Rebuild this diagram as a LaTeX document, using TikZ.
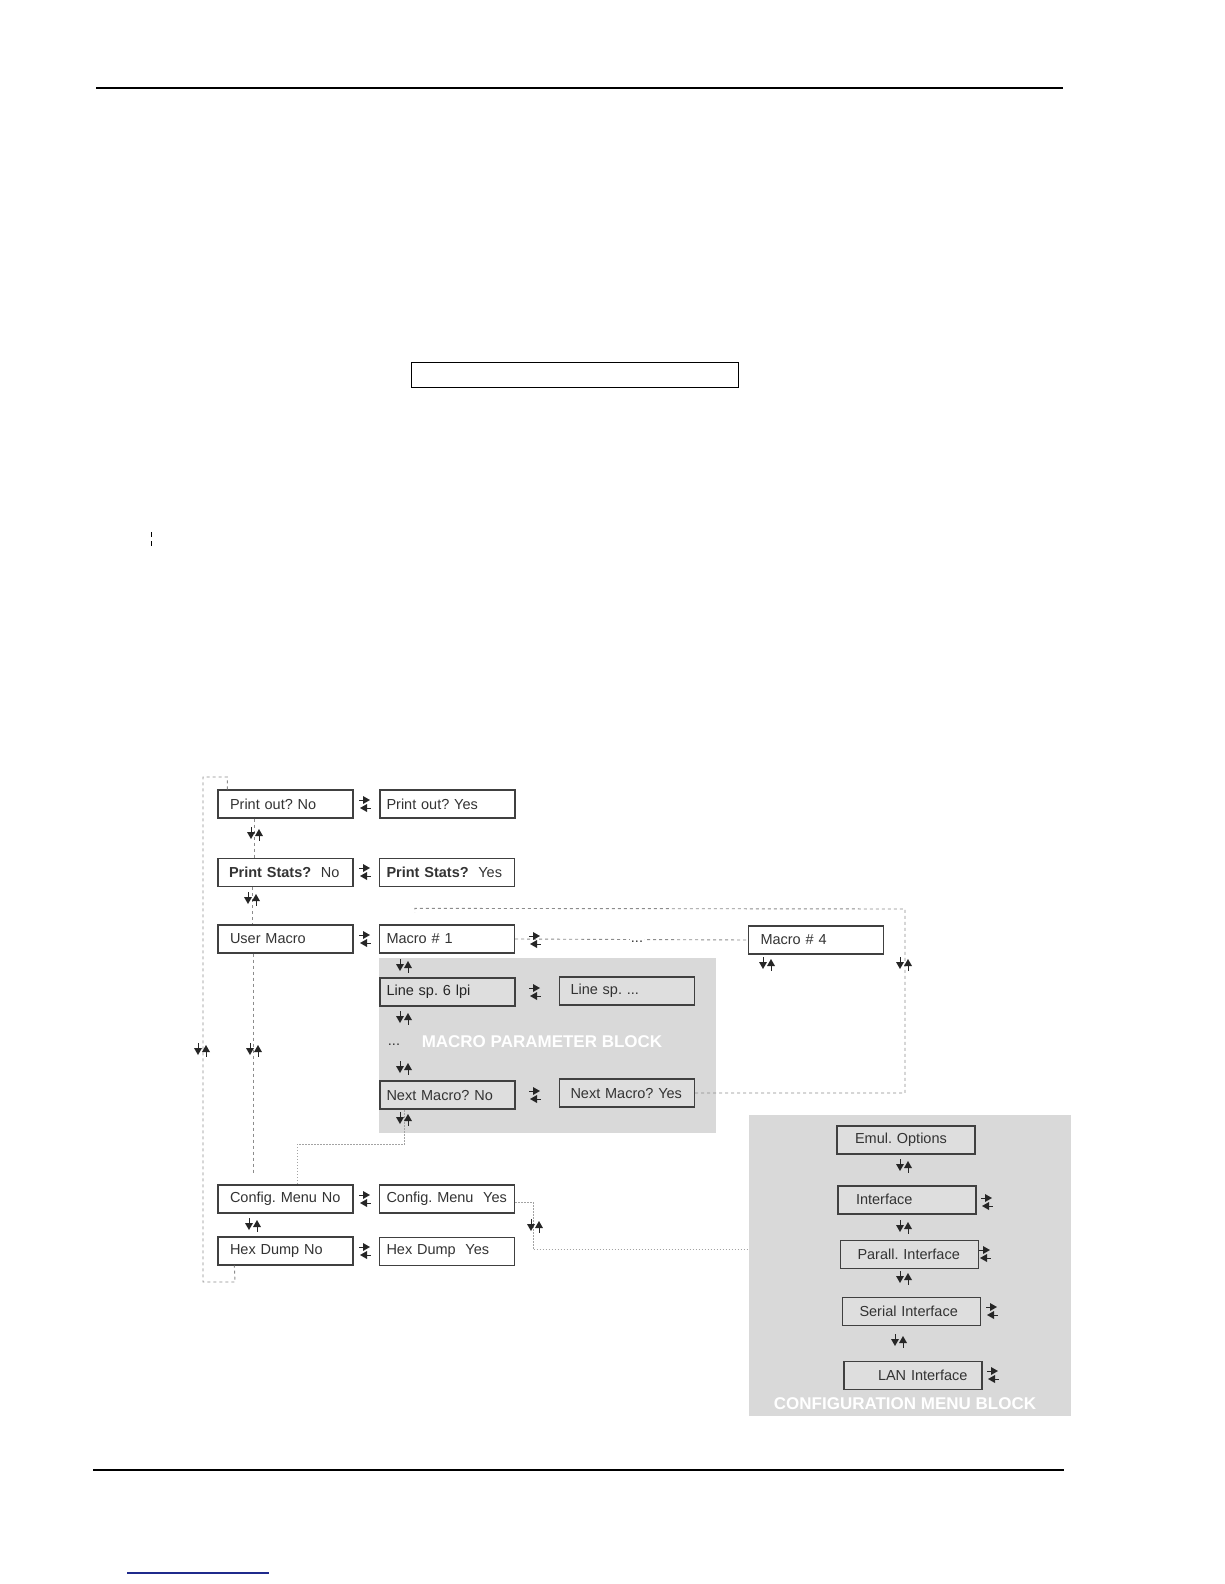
\documentclass[tikz,border=0pt]{standalone}
\usepackage{fontspec}
\setmainfont{Liberation Sans}
\usepackage{xcolor}
\usetikzlibrary{positioning}
\definecolor{BoxEdge}{HTML}{404040}
\definecolor{TextGray}{HTML}{333333}
\definecolor{BlockGray}{HTML}{D9D9D9}
\definecolor{InnerGray}{HTML}{DEDEDE}
\definecolor{LoopGray}{HTML}{8C8C8C}
\definecolor{LinkBlue}{HTML}{1F2A8C}
\frenchspacing
\tikzset{
  vpair/.pic={
    \draw[black!85,line width=1pt] (-4,-7)--(-4,-2) (4,2)--(4,7);
    \fill[black!85] (-8,-2)--(0,-2)--(-4,5)--cycle;
    \fill[black!85] (0,2)--(8,2)--(4,-5)--cycle;},
  hpair/.pic={
    \draw[black!85,line width=1pt] (-6,-4)--(-2,-4) (2,4)--(6,4);
    \fill[black!85] (-2,-8)--(-2,0)--(5,-4)--cycle;
    \fill[black!85] (2,0)--(2,8)--(-5,4)--cycle;}
}

\begin{document}
\begin{tikzpicture}[x=1pt,y=-1pt,
    every node/.style={font=\fontsize{14.5}{17}\selectfont,text=TextGray},
    menubox/.style={draw=BoxEdge,line width=1.3pt,fill=white,minimum height=28pt,
      text width=121pt,inner xsep=7pt,align=left},
    heavy/.style={line width=2pt},
    cfgbox/.style={menubox,fill=InnerGray,text width=118pt,inner xsep=10pt},
    blocklabel/.style={font=\fontsize{17}{20}\selectfont\bfseries,text=white},
    dashln/.style={LoopGray,line width=0.9pt,dash pattern=on 3pt off 3pt},
    dotln/.style={LoopGray!80,line width=0.8pt,dash pattern=on 1.5pt off 1.5pt}]
  \useasboundingbox (0,0) rectangle (1224,1584);
  % page rules
  \draw[line width=1.2pt] (96,88) -- (1063,88);
  \draw[line width=1.2pt] (93,1470) -- (1064,1470);
  \draw[line width=1pt] (411,362) rectangle (738,387);
  \draw[line width=0.8pt] (151,532) -- (151,537) (151,541) -- (151,546);
  \draw[LinkBlue,line width=1.2pt] (127,1573) -- (269,1573);
  % gray blocks
  \node[fill=BlockGray,minimum width=337pt,minimum height=175pt,inner sep=0pt]
    (mblk) at (547.5,1045.5) {};
  \node[fill=BlockGray,minimum width=322pt,minimum height=301pt,inner sep=0pt]
    (cfgblk) at (910,1265.5) {};
  \node[blocklabel] (mlbl) at (542,1042) {MACRO PARAMETER BLOCK};
  \node[blocklabel] (clbl) at (905,1404) {CONFIGURATION MENU BLOCK};
  % main column
  \node[menubox] (pon) at (285.5,804) {\hspace*{5pt}Print out? No};
  \node[menubox] (psn) at (285.5,872.5) {\hspace*{4pt}\textbf{Print Stats?}\ \ No};
  \node[menubox] (um) at (285.5,939) {\hspace*{5pt}User Macro};
  \node[menubox] (cmn) at (285.5,1199) {\hspace*{5pt}Config. Menu No};
  \node[menubox] (hdn) at (285.5,1251) {\hspace*{5pt}Hex Dump No};
  % second column
  \node[menubox,heavy] (poy) at (447,804) {Print out? Yes};
  \node[menubox] (psy) at (447,872.5) {\textbf{Print Stats?}\ \ Yes};
  \node[menubox] (m1) at (447,939) {Macro \# 1};
  \node[menubox,heavy,fill=InnerGray] (ls6) at (447,992) {\textcolor{black!85}{Line sp. 6 lpi}};
  \node (dots) at (394,1045) {...};
  \node[menubox,heavy,fill=InnerGray] (nmn) at (447,1095) {Next Macro? No};
  \node[menubox] (cmy) at (447,1199) {Config. Menu\ \ Yes};
  \node[menubox] (hdy) at (447,1251.5) {Hex Dump\ \ Yes};
  % third column
  \node[menubox,fill=InnerGray] (lsx) at (627,991) {\hspace*{4pt}Line sp. ...};
  \node[menubox,fill=InnerGray] (nmy) at (627,1093) {\hspace*{4pt}Next Macro? Yes};
  \node[menubox] (m4) at (816,940) {\hspace*{5pt}Macro \# 4};
  % configuration menu
  \node[cfgbox,heavy] (emul) at (906,1139.5) {\hspace*{8pt}Emul. Options};
  \node[cfgbox,heavy] (intf) at (907,1199.5) {\hspace*{8pt}Interface};
  \node[cfgbox] (para) at (909.5,1254.5) {\hspace*{7pt}Parall. Interface};
  \node[cfgbox] (seri) at (911.5,1311.5) {\hspace*{7pt}Serial Interface};
  \node[cfgbox] (lan) at (913,1375.5) {\hspace*{24pt}LAN Interface};
  % loops
  \draw[dashln] ([xshift=10pt]pon.north west) |- (203,777) |- (235,1282)
    -- ([xshift=17pt]hdn.south west);
  \draw[dashln] ([xshift=37pt]pon.south west) -- ([xshift=37pt]psn.north west);
  \draw[dashln] ([xshift=35pt]psn.south west) -- ([xshift=35pt]um.north west);
  \draw[dashln] ([xshift=36pt]um.south west) -- ([xshift=36pt,yshift=10pt]cmn.north west);
  \draw[dashln] (m1.east) -- (m4.west);
  \node[fill=white,inner sep=1pt,anchor=base] (mdots) at (637,942) {...};
  \draw[dashln] (nmy.east) -| (905,909) -- ([xshift=36pt,yshift=16pt]m1.north west)
    -- ++(0,4);
  \draw[dotln] ([xshift=26pt]nmn.south west) |- ([xshift=80pt,yshift=40pt]cmn.north west)
    -- ([xshift=80pt]cmn.north west);
  \draw[dotln] ([yshift=-3pt]cmy.east) -- ++(18,0) |- ([yshift=16pt]cfgblk.west);
  % up/down arrows
  \foreach \x/\y in {255/834,252/899,254/1050,202/1050,253/1225,
      404/966,404/1018,404/1068,404/1119,535/1226,767/964,904/964,
      904/1166,904/1227,904/1278,899/1341}
    \pic at (\x,\y) {vpair};
  % left/right arrows
  \foreach \x/\y in {365/804,365/872,365/939,365/1199,365/1251,
      535/940,535/992,535/1095,987/1202,985/1254,992/1311,993/1375}
    \pic at (\x,\y) {hpair};
\end{tikzpicture}
\end{document}
